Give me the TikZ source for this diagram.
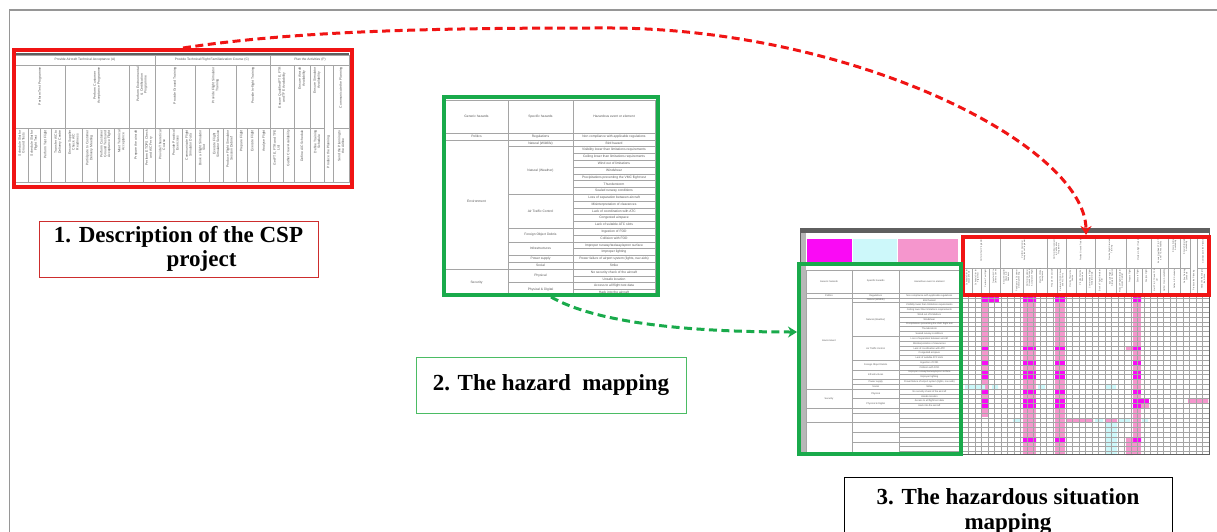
\documentclass[tikz,border=0pt]{standalone}
\usepackage{fontspec}
\setmainfont{Liberation Serif}
\newfontfamily\cellfont{Liberation Sans}
\usetikzlibrary{positioning}
\usetikzlibrary{arrows.meta}
\definecolor{cspred}{RGB}{240,20,20}
\definecolor{hazgreen}{RGB}{25,170,75}
\definecolor{capred}{RGB}{205,45,45}
\definecolor{capgreen}{RGB}{75,188,100}
\definecolor{framegray}{RGB}{150,150,150}
\definecolor{bargray}{RGB}{95,95,95}
\definecolor{linegray}{RGB}{165,165,165}
\definecolor{txtgray}{RGB}{85,85,85}
\definecolor{cellpink}{RGB}{245,150,205}
\definecolor{cellmag}{RGB}{250,10,245}
\definecolor{cellcyan}{RGB}{205,248,250}
\newcommand{\cspmid}{15/65/{Perform Test Programme},
  65/129/{Perform Customer\\Acceptance Programme},
  129/155/{Perform Environmental\\\& Certification\\Programme},
  155/195/{Provide Ground Training},
  195/236/{Provide Flight Simulator\\Training},
  236/270/{Provide In-flight Training},
  270/294/{Ensure Qualified FTE, FTR\\and TFE Availability},
  294/310/{Ensure Aircraft\\Availability},
  310/324/{Ensure Simulator\\Availability},
  333/349/{Communicate the Planning}}
\newcommand{\csplow}{15/28/{Schedule Slot for\\Ground Tests},
  28/40/{Schedule Slot for\\Flight Test},
  40/51/{Perform Test Flight},
  51/65/{Transfer A/C to\\Delivery Centre},
  65/82/{Ensure Supplier\\Check A/C\\Readiness},
  82/97/{Participate to Customer\\Delivery Meeting},
  97/114/{Perform Customer\\Ground Tests and\\Acceptance Flight},
  114/129/{Meet Technical\\Acceptance},
  129/143/{Prepare the aircraft},
  143/155/{Perform ETOPS Check\\and A/C Ferry},
  155/169/{Provide Theoretical\\Course},
  169/182/{Provide Practical\\Exercises},
  182/195/{Communicate Flight\\Simulator Data},
  195/209/{Book a Flight Simulator\\Slot},
  209/223/{Execute Flight\\Simulator Session},
  223/236/{Produce Flight Simulator\\Session Debrief},
  236/247/{Prepare Flight},
  247/258/{Execute Flight},
  258/270/{Analyse Flight},
  270/283/{Get FTE, FTR and TFE\\List},
  283/294/{Gather Crew Availability},
  294/310/{Define A/C Schedule},
  310/324/{Define Training\\Schedule},
  333/349/{Send the Planning to\\the Airline}}
\newcommand{\hazgen}{0.5/Politics,10/Environment,22/Security}
\newcommand{\hazspec}{0.5/Regulations,1.5/{Natural (Wildlife)},5.5/{Natural (Weather)},
  11.5/{Air Traffic Control},15/{Foreign Object Debris},17/Infrastructures,
  18.5/{Power supply},19.5/Social,21/Physical,23/{Physical \& Digital}}
\newcommand{\hazevents}{Non compliance with applicable regulations,Bird hazard,
  Visibility lower than limitations requirements,Ceiling lower than limitations requirements,
  Wind out of limitations,Windshear,Precipitations preventing the VMC flight test,
  Thunderstorm,Sealed runway conditions,Loss of separation between aircraft,
  Misinterpretation of clearances,Lack of coordination with ATC,Congested airspace,
  Lack of suitable ATC slots,Ingestion of FOD,Collision with FOD,
  Improper runway/taxiway/apron surface,Improper lighting,
  {Power failure of airport system (lights, nav aids)},Strike,
  No security check of the aircraft,Unsafe location,Access to all flight test data,
  Hack into the aircraft}
% activity columns of the CSP
\newcommand{\activitygrid}{%
  \draw[tabline] (15,65) rectangle (349,182);
  \draw[tabline] (15,128) -- (324,128) (333,128) -- (349,128);
  \foreach \x in {65,129,155,195,236,270,294,310,324,333} \draw[tabline] (\x,65) -- (\x,182);
  \foreach \x in {28,40,51,82,97,114,143,169,182,209,223,247,258,283} \draw[tabline] (\x,128) -- (\x,182);
  \foreach \a/\b/\word [count=\i] in \cspmid \node[acttxt] (mid\i) at ({(\a+\b)/2},67) {\word};
  \foreach \a/\b/\word [count=\i] in \csplow \node[acttxt] (low\i) at ({(\a+\b)/2},130) {\word};
  \node[acttxt,anchor=center] (plan) at (328.5,152) {Produce the Planning};}
% generic / specific hazards and events
\newcommand{\hazardgrid}{%
  \draw[tabline] (0,0) rectangle (210,196.2);
  \draw[tabline] (0,33) -- (210,33) (63,0) -- (63,196.2) (128,0) -- (128,196.2);
  \foreach \r in {1,...,23} \draw[tabline] (128,33+6.8*\r) -- (210,33+6.8*\r);
  \foreach \r in {1,2,9,14,16,18,19,20,22} \draw[tabline] (63,33+6.8*\r) -- (128,33+6.8*\r);
  \foreach \r in {1,20} \draw[tabline] (0,33+6.8*\r) -- (63,33+6.8*\r);
  \node[haztxt] (genhd) at (31.5,16.5) {Generic hazards};
  \node[haztxt] (spechd) at (95.5,16.5) {Specific hazards};
  \node[haztxt] (evhd) at (169,16.5) {Hazardous event or element};
  \foreach \r/\word [count=\i] in \hazgen \node[haztxt] (gen\i) at (31.5,33+6.8*\r) {\word};
  \foreach \r/\word [count=\i] in \hazspec \node[haztxt] (spec\i) at (95.5,33+6.8*\r) {\word};
  \foreach \word [count=\r from 0] in \hazevents \node[haztxt] (ev\r) at (169,36.4+6.8*\r) {\word};}
\begin{document}
\begin{tikzpicture}[x=1pt,y=-1pt,>={Stealth[length=9pt,width=11pt]},
    tabline/.style={draw=linegray,line width=0.4pt},
    acttxt/.style={inner sep=0pt,text=txtgray,rotate=90,anchor=east,align=center,
      font=\cellfont\fontsize{3.4}{3.8}\selectfont},
    haztxt/.style={inner sep=0pt,text=txtgray,align=center,
      font=\cellfont\fontsize{3.3}{3.6}\selectfont},
    shotbox/.style={rectangle,draw,line width=4pt,inner sep=0pt},
    labelbox/.style={rectangle,draw,line width=1pt,inner sep=0pt,align=center,
      font=\bfseries\fontsize{23}{24.5}\selectfont},
    link/.style={->,line width=3pt,dash pattern=on 8pt off 4.5pt}]
  \useasboundingbox (0,0) rectangle (1217,532);
  \draw[framegray,line width=1.5pt] (9.5,532) -- (9.5,10) -- (1217,10);

  % 1. CSP description
  \draw[bargray,line width=1.5pt] (15,54) -- (349,54);
  \draw[tabline] (15,55) rectangle (349,65) (155,55) -- (155,65) (270,55) -- (270,65);
  \node[haztxt] (grpA) at (85,60) {Provide Aircraft Technical Acceptance (A)};
  \node[haztxt] (grpC) at (212,60) {Provide Technical Flight Familiarization Course (C)};
  \node[haztxt] (grpP) at (310,60) {Plan the Activities (P)};
  \activitygrid

  % 2. hazard mapping
  \begin{scope}
    \clip (444,97) rectangle (658,295);
    \begin{scope}[shift={(445,100)}]
      \hazardgrid
    \end{scope}
  \end{scope}

  % 3. hazardous situation mapping
  \fill[bargray] (800,228) rectangle (1210,233);
  \fill[bargray!45] (800,233) rectangle (806,455);
  \fill[cellmag] (807,239) rectangle (852,266);
  \fill[cellcyan] (853,239) rectangle (897,262);
  \fill[cellpink] (898,239) rectangle (958,262);
  \begin{scope}[shift={(806,269.7)},xscale=0.73,yscale=0.706,
      haztxt/.append style={font=\cellfont\fontsize{2.4}{2.6}\selectfont}]
    \hazardgrid
    \draw[tabline] (0,196.2) -- (0,264.2) (63,196.2) -- (63,264.2) (128,196.2) -- (128,264.2);
    \foreach \r in {25,...,33} \draw[tabline] (128,33+6.8*\r) -- (210,33+6.8*\r);
    \foreach \r in {25,27,29,31} \draw[tabline] (63,33+6.8*\r) -- (128,33+6.8*\r);
    \draw[tabline] (0,33+6.8*27) -- (63,33+6.8*27);
  \end{scope}
  \fill[cellpink] (982,297) rectangle (988,417);
  \foreach \x/\w in {1023/13,1055/10,1133/8} \fill[cellpink] (\x,297) rectangle (\x+\w,455);
  \foreach \r in {11,14,16,17,20,22,23} \foreach \x/\w in {982/6,1023/13,1055/10,1133/8}
    \fill[cellmag] (\x,293+4.8*\r) rectangle (\x+\w,297.8+4.8*\r);
  \fill[cellmag] (982,297) rectangle (999,302);
  \foreach \x/\w in {1023/13,1055/10,1133/8} \fill[cellmag] (\x,297) rectangle (\x+\w,302) (\x,437) rectangle (\x+\w,442);
  \fill[cellmag] (1141,398.6) rectangle (1149,403.4);
  \fill[cellpink] (1141,403.4) rectangle (1149,408.2) (1126,346) rectangle (1133,351)
    (1126,437) rectangle (1133,455) (1188,399) rectangle (1208,403)
    (1066,418) rectangle (1093,422) (1105,418) rectangle (1117,422);
  \fill[cellcyan] (965,385) rectangle (985,390) (992,385) rectangle (998,390)
    (1038,385) rectangle (1045,390) (1106,385) rectangle (1116,390)
    (1013,418) rectangle (1021,422) (1095,418) rectangle (1103,422)
    (1118,418) rectangle (1130,422) (1142,418) rectangle (1148,422)
    (1106,422) rectangle (1117,455);
  \foreach \j in {1,...,37} \draw[tabline] (962+6.5*\j,296) -- (962+6.5*\j,455);
  \foreach \r in {1,...,33} \draw[tabline] (960,293+4.8*\r) -- (1209,293+4.8*\r);
  \begin{scope}[shift={(963,237)},xscale=0.7365,yscale=0.496,shift={(-15,-65)},
      acttxt/.append style={font=\cellfont\fontsize{2.1}{2.3}\selectfont}]
    \activitygrid
  \end{scope}

  % boxes
  \node[shotbox,draw=cspred,minimum width=338pt,minimum height=137pt] (cspbox) at (183,118.5) {};
  \node[shotbox,draw=hazgreen,minimum width=214pt,minimum height=198pt] (hazbox) at (551,196) {};
  \node[rectangle,draw=bargray,line width=1.2pt,minimum width=409pt,minimum height=226pt] (hstable) at (1005,341.5) {};
  \node[shotbox,draw=cspred,minimum width=246pt,minimum height=58pt] (hsred) at (1086,266) {};
  \node[shotbox,draw=hazgreen,minimum width=162pt,minimum height=190pt] (hsgreen) at (880,359) {};

  \node[labelbox,draw=capred,minimum width=279pt,minimum height=56pt] (cspcap) [below=31.5pt of cspbox,xshift=-4.5pt]
    {1. Description of the CSP\\\hspace*{2em}project};
  \node[labelbox,draw=capgreen,minimum width=270pt,minimum height=56pt] (hazcap) [below=59.5pt of hazbox]
    {2. The hazard\ \ mapping};
  \node[labelbox,draw=black,minimum width=328pt,inner ysep=11pt] (hscap) [below=22pt of hstable,xshift=3pt]
    {3. The hazardous situation\\mapping};

  \draw[link,cspred] (cspbox.north) .. controls (300,30) and (450,28) .. (600,28)
    .. controls (850,26) and (1086,145) .. (hsred.north);
  \draw[link,hazgreen] (hazbox.south) .. controls (600,325) and (700,332) .. ([yshift=27pt]hsgreen.west);
\end{tikzpicture}
\end{document}
